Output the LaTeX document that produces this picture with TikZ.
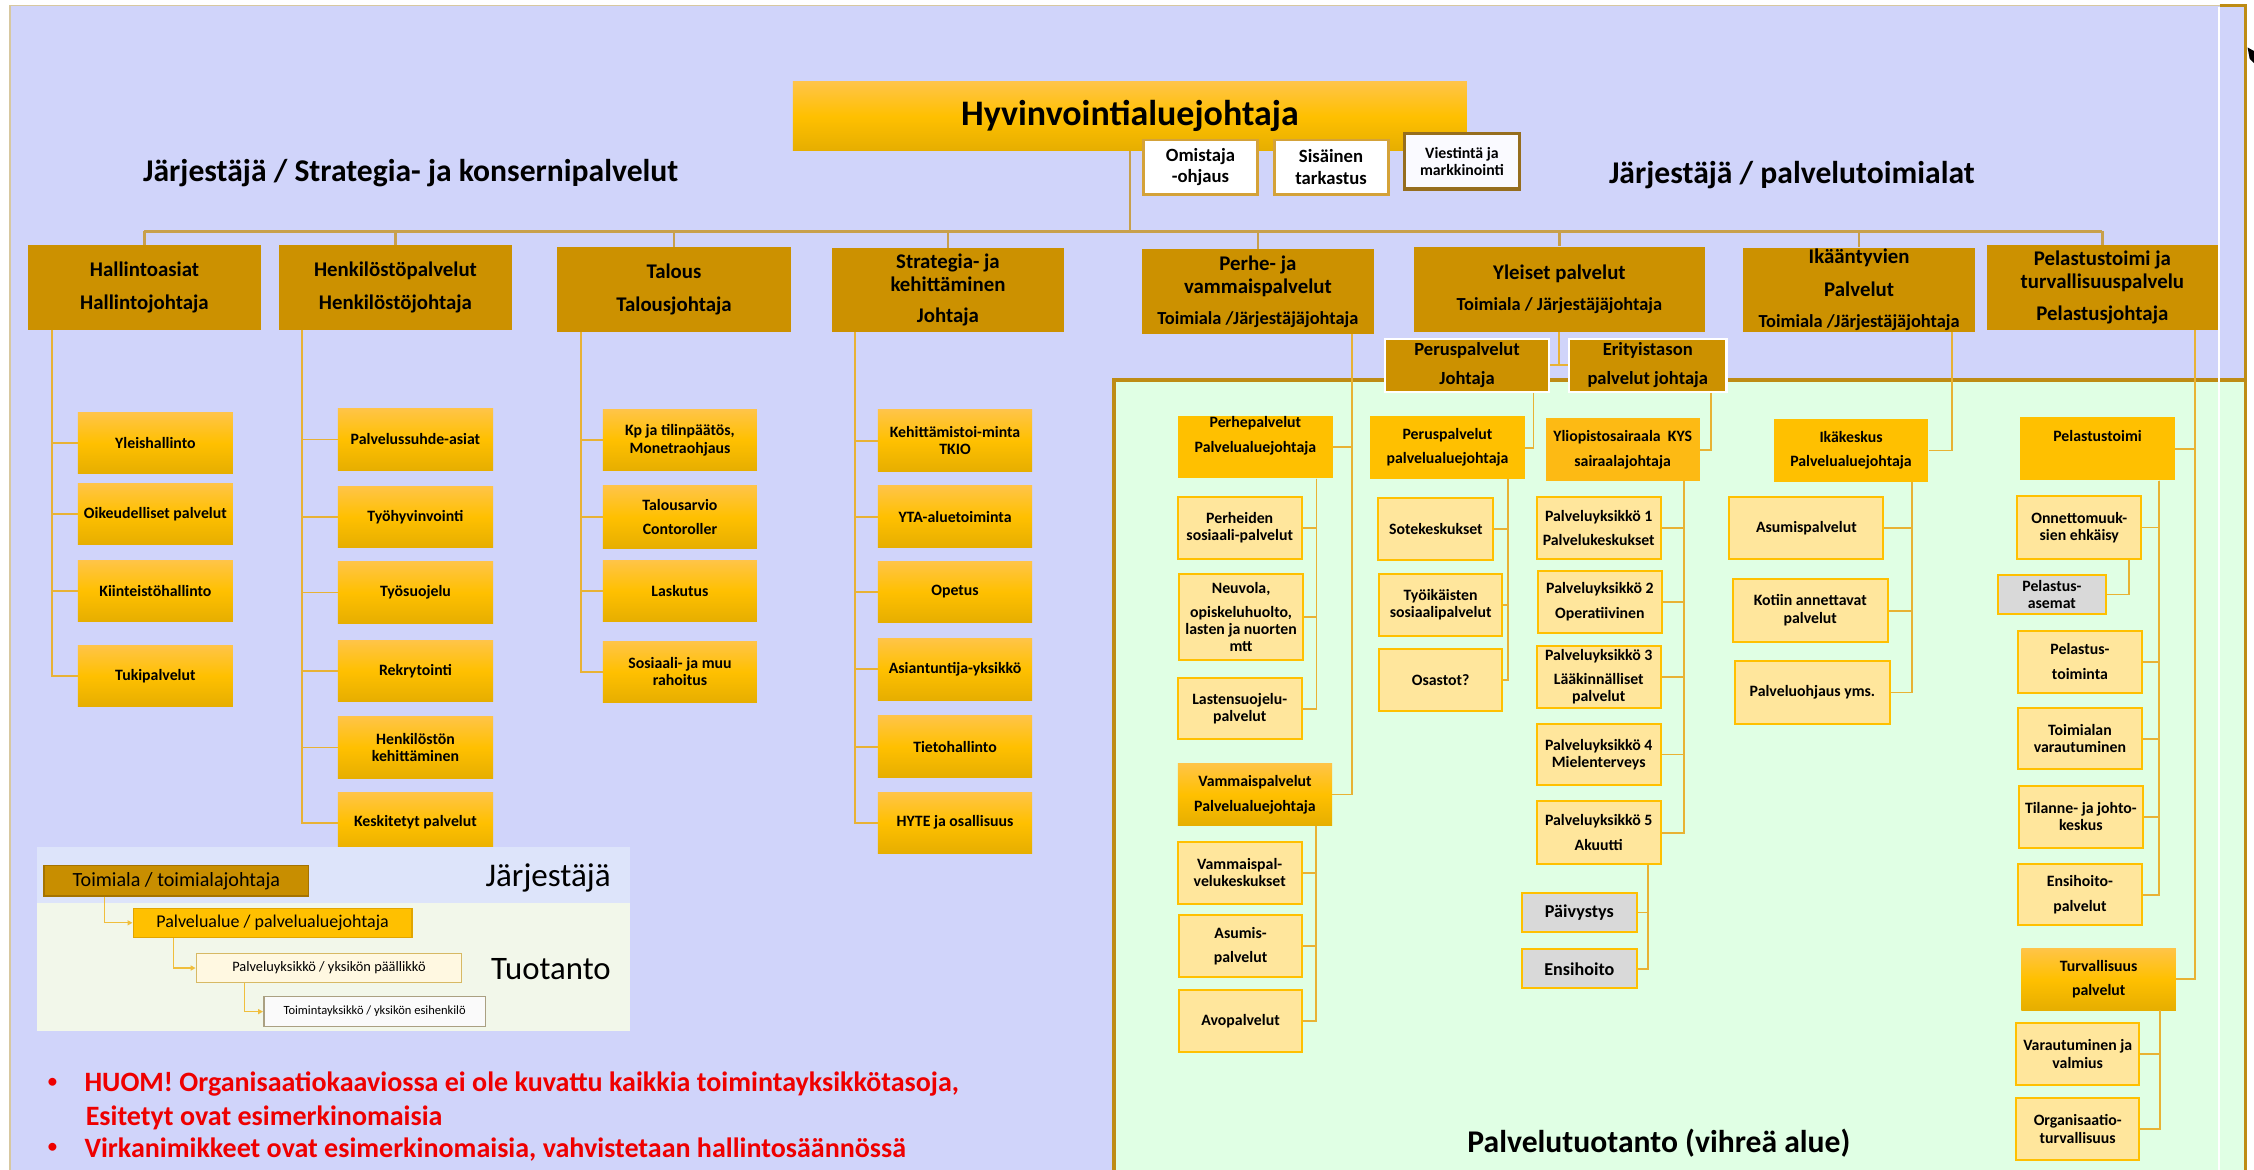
\documentclass[tikz,border=0pt]{standalone}
\usepackage{fontspec}
\setmainfont{Carlito}
\usetikzlibrary{arrows.meta}
\definecolor{lav}{RGB}{208,212,250}
\definecolor{grn}{RGB}{224,255,228}
\definecolor{hdrc}{RGB}{204,145,0}
\definecolor{busc}{RGB}{200,160,75}
\definecolor{conc}{RGB}{232,178,52}
\definecolor{gtop}{RGB}{255,196,72}
\definecolor{gmid}{RGB}{255,192,0}
\definecolor{gbot}{RGB}{230,174,0}
\definecolor{leafc}{RGB}{255,230,156}
\definecolor{orc}{RGB}{255,192,0}
\definecolor{grayc}{RGB}{217,217,217}
\definecolor{midc}{RGB}{255,192,0}
\definecolor{yoc}{RGB}{253,186,20}
\definecolor{redt}{RGB}{238,0,0}
\definecolor{gbord}{RGB}{190,140,20}
\definecolor{omib}{RGB}{212,162,56}
\definecolor{vieb}{RGB}{150,110,30}
\definecolor{tanl}{RGB}{215,200,160}
\definecolor{lgtop}{RGB}{221,228,250}
\definecolor{lgbot}{RGB}{242,247,234}
\definecolor{lgline}{RGB}{240,190,60}
\newcommand\fhdr{\fontsize{14.5}{16}\selectfont\bfseries}
\newcommand\fhsm{\fontsize{12.8}{14}\selectfont}
\newcommand\fleaf{\fontsize{11}{11.8}\selectfont\bfseries}
\newcommand\fbig{\fontsize{12.6}{14}\selectfont\bfseries}
\newcommand\fomi{\fontsize{13}{15}\selectfont\bfseries}
\newcommand\fvie{\fontsize{11}{11.6}\selectfont\bfseries}
\newcommand\fsubh{\fontsize{12.9}{14}\selectfont\bfseries}
\newcommand\fhyv{\fontsize{25}{28}\selectfont\bfseries}
\newcommand\ftitle{\fontsize{22}{24}\selectfont\bfseries}
\newcommand\fred{\fontsize{19.5}{22}\selectfont\bfseries}
\newcommand\fbul{\fontsize{13}{15}\selectfont\bfseries}
\newcommand\obox[7]{%
  \pgfmathsetmacro\oboxw{#5-#3}%
  \pgfmathsetmacro\oboxh{#6-#4}%
  \pgfmathsetmacro\oboxx{(#3+#5)/2}%
  \pgfmathsetmacro\oboxy{(#4+#6)/2}%
  \node[#1,minimum width=\oboxw pt,minimum height=\oboxh pt] (#2) at (\oboxx,\oboxy) {#7};}
\tikzset{
  hdr/.style={fill=hdrc, inner sep=1pt, align=center, font=\fhdr},
  sub/.style={top color=gtop, bottom color=gbot, middle color=gmid, inner sep=1pt, align=center, font=\fleaf},
  mid/.style={fill=midc, inner sep=1pt, align=center, font=\fleaf},
  leaf/.style={fill=leafc, draw=orc, line width=1.4pt, inner sep=1pt, align=center, font=\fleaf},
  grayb/.style={fill=grayc, draw=orc, line width=1.4pt, inner sep=1pt, align=center, font=\fbig},
  wbox/.style={fill=white, draw=omib, line width=2pt, inner sep=1pt, align=center, font=\fomi},
  bus/.style={draw=busc, line width=1.6pt},
  con/.style={draw=conc, line width=1.3pt},
  txt/.style={inner sep=0.5pt, align=center, font=\fleaf},
  lgcon/.style={draw=lgline, line width=0.9pt, -{Triangle[length=3.5pt,width=3.5pt]}},
}
\begin{document}
\begin{tikzpicture}[x=1pt,y=-1pt]
\useasboundingbox (0,0) rectangle (1568,813.9);
\fill[white] (0,0) rectangle (1568,813.9);
\fill[lav] (7.5,4) rectangle (1562,813.9);
\fill[grn] (775,264.3) rectangle (1562,813.9);
\draw[tanl, line width=1pt] (7,813.9) -- (7,4) -- (1544,4);
\draw[gbord, line width=2pt] (1544,4) -- (1562,4) -- (1562,813.9);
\draw[gbord, line width=2.2pt] (775,813.9) -- (775,264.3) -- (1562,264.3);
\draw[white, line width=1.2pt] (1543.8,5) -- (1543.8,813.9);
\fill[black] (1563.5,33) -- (1568,35.5) -- (1568,44) -- (1565,41) -- cycle;

% titles
\node[font=\ftitle] (tleft) at (285.7,120.6) {Järjestäjä / Strategia- ja konsernipalvelut};
\node[font=\ftitle] (tright) at (1246.5,121.7) {Järjestäjä / palvelutoimialat};
\node[font=\ftitle] (tgreen) at (1154,795.4) {Palvelutuotanto (vihreä alue)};

% top
\obox{sub,font=\fhyv}{hyv}{551.5}{57}{1020.5}{104.8}{Hyvinvointialuejohtaja}
\obox{wbox}{omi}{795.3}{97.4}{874.9}{135}{Omistaja\\-ohjaus}
\obox{wbox}{sis}{886.3}{97.4}{965.6}{135}{Sisäinen\\tarkastus}
\obox{wbox,draw=vieb,line width=2.4pt,fill={rgb,255:red,250;green,250;blue,255},font=\fvie}{vie}{977}{93}{1057}{131.5}{Viestintä ja\\markkinointi}

% headers
\obox{hdr}{hall}{19.6}{170.4}{181.4}{229.6}{Hallintoasiat\\[6.7pt]Hallintojohtaja}
\obox{hdr}{henk}{194.2}{170.4}{356}{229.6}{Henkilöstöpalvelut\\[6.7pt]Henkilöstöjohtaja}
\obox{hdr}{tal}{387.7}{172}{550}{230.7}{Talous\\[6.7pt]Talousjohtaja}
\obox{hdr}{str}{578.9}{172.5}{740}{230.7}{Strategia- ja\\kehittäminen\\[6pt]Johtaja}
\obox{hdr}{perhe}{794.6}{173.4}{955.5}{232.3}{Perhe- ja\\vammaispalvelut\\[6pt]{\fhsm Toimiala /Järjestäjäjohtaja}}
\obox{hdr}{yl}{983.6}{171.6}{1186}{230.7}{Yleiset palvelut\\[5pt]{\fhsm Toimiala / Järjestäjäjohtaja}}
\obox{hdr}{ika}{1212.6}{172.3}{1374}{230.7}{Ikääntyvien\\[6.5pt]Palvelut\\[5.6pt]{\fhsm Toimiala /Järjestäjäjohtaja}}
\obox{hdr}{pel}{1382}{170.4}{1543}{229.6}{Pelastustoimi ja\\turvallisuuspalvelu\\[6.7pt]Pelastusjohtaja}

% Hallinto
\obox{sub}{yh}{54.2}{287}{162}{329.5}{Yleishallinto}
\obox{sub}{oik}{54.2}{336}{162}{379}{Oikeudelliset palvelut}
\obox{sub}{kiin}{54.2}{389.8}{162}{432.5}{Kiinteistöhallinto}
\obox{sub}{tuki}{54.2}{448.8}{162}{491.6}{Tukipalvelut}
% Henkilosto
\obox{sub}{pal}{235}{284}{343}{327.4}{Palvelussuhde-asiat}
\obox{sub}{tyh}{235}{338.3}{343}{381}{Työhyvinvointi}
\obox{sub}{tys}{235}{390.5}{343}{433.9}{Työsuojelu}
\obox{sub}{rek}{235}{445.5}{343}{488}{Rekrytointi}
\obox{sub}{hke}{235}{498.3}{343}{541.7}{Henkilöstön\\kehittäminen}
\obox{sub}{kes}{235}{551}{343}{593.6}{Keskitetyt palvelut}
% Talous
\obox{sub}{kp}{419.4}{284.8}{526.6}{327.4}{Kp ja tilinpäätös,\\[0.7pt]Monetraohjaus}
\obox{sub}{tab}{419.4}{338}{526.6}{381.7}{Talousarvio\\[4.9pt]Contoroller}
\obox{sub}{las}{419.4}{389.6}{526.6}{432.5}{Laskutus}
\obox{sub}{sos}{419.4}{446}{526.6}{488.8}{Sosiaali- ja muu\\rahoitus}
% Strategia
\obox{sub}{keh}{610.7}{285.2}{718}{328.1}{Kehittämistoi-minta\\TKIO}
\obox{sub}{yta}{610.7}{338}{718}{381}{YTA-aluetoiminta}
\obox{sub}{ope}{610.7}{390.3}{718}{433.2}{Opetus}
\obox{sub}{asi}{610.7}{444}{718}{487}{Asiantuntija-yksikkö}
\obox{sub}{tie}{610.7}{498}{718}{541}{Tietohallinto}
\obox{sub}{hyte}{610.7}{551}{718}{593.6}{HYTE ja osallisuus}

% Perhe
\obox{mid}{pp}{819.3}{289.2}{927.3}{332.7}{}
\node[txt,anchor=north] (ppt) at (pp.north) {Perhepalvelut\\[5.7pt]Palvelualuejohtaja};
\obox{leaf}{ps}{819.3}{345.7}{905.5}{388.6}{Perheiden\\sosiaali-palvelut}
\obox{leaf}{neu}{820}{399.3}{906.7}{458.9}{Neuvola,\\[5pt]opiskeluhuolto,\\lasten ja nuorten\\mtt}
\obox{leaf}{lsu}{819.3}{471.6}{905.5}{514.3}{Lastensuojelu-\\palvelut}
\obox{sub}{vp}{819.3}{530.9}{926.7}{574.4}{Vammaispalvelut\\[5.6pt]Palvelualuejohtaja}
\obox{leaf}{vk}{819.3}{585.6}{905.5}{628.6}{Vammaispal-\\velukeskukset}
\obox{leaf}{asu}{820}{636.5}{906}{679.9}{Asumis-\\[5.4pt]palvelut}
\obox{leaf}{avo}{820}{688.7}{906}{732}{Avopalvelut}

% Yleiset
\obox{hdr,draw=white,line width=1.5pt,font=\fsubh}{pj}{963.5}{235.8}{1077.6}{272.5}{Peruspalvelut\\[6pt]Johtaja}
\obox{hdr,draw=white,line width=1.5pt,font=\fsubh}{et}{1091.5}{235.8}{1201}{272.5}{Erityistason\\[6pt]palvelut johtaja}
\obox{mid}{ppa}{953.2}{289.7}{1060.7}{333.2}{Peruspalvelut\\[4.8pt]palvelualuejohtaja}
\obox{leaf}{sot}{958.8}{346.4}{1038.9}{389.3}{Sotekeskukset}
\obox{leaf}{tyi}{959.3}{399.3}{1045}{442.4}{Työikäisten\\sosiaalipalvelut}
\obox{leaf}{osa}{959.3}{451.2}{1045}{494.6}{Osastot?}
\obox{mid,fill=yoc}{yo}{1075.2}{291}{1182.3}{334.6}{Yliopistosairaala\ \ KYS\\[5.2pt]sairaalajohtaja}
\obox{leaf}{py1}{1069}{345.6}{1155.3}{388.6}{Palveluyksikkö 1\\[4.9pt]Palvelukeskukset}
\obox{leaf}{py2}{1069.8}{397.2}{1156.1}{440.3}{Palveluyksikkö 2\\[5.6pt]Operatiivinen}
\obox{leaf}{py3}{1069}{449.4}{1155.3}{492.5}{Palveluyksikkö 3\\[4.9pt]Lääkinnälliset\\palvelut}
\obox{leaf}{py4}{1069}{503.4}{1155.3}{546.4}{Palveluyksikkö 4\\Mielenterveys}
\obox{leaf}{py5}{1069}{557.5}{1155.3}{601}{Palveluyksikkö 5\\[5.6pt]Akuutti}
\obox{grayb}{pai}{1058.8}{621.3}{1138.5}{648.2}{Päivystys}
\obox{grayb}{ens}{1058.8}{660.4}{1138.5}{687.5}{Ensihoito}

% Ika
\obox{mid}{ik}{1233.9}{291.7}{1341.4}{335.1}{Ikäkeskus\\[4.8pt]Palvelualuejohtaja}
\obox{leaf}{asp}{1203}{345.8}{1310.2}{389}{Asumispalvelut}
\obox{leaf}{kot}{1205.5}{403}{1313.1}{446.5}{Kotiin annettavat\\[0.6pt]palvelut}
\obox{leaf}{pao}{1207}{460.1}{1314.6}{503.4}{Palveluohjaus yms.}

% Pelastus
\obox{mid}{pt}{1405.5}{290.4}{1512.8}{334.2}{}
\node[txt,anchor=north] (ptt) at ([yshift=-8.6pt]pt.north) {Pelastustoimi};
\obox{leaf}{onn}{1403.3}{345.3}{1489.6}{388.6}{Onnettomuuk-\\sien ehkäisy}
\obox{grayb,font=\fleaf}{ase}{1389.8}{400}{1465}{427.1}{Pelastus-\\[0.6pt]asemat}
\obox{leaf}{pto}{1403.8}{438.8}{1490}{482.2}{Pelastus-\\[5.6pt]toiminta}
\obox{leaf}{tva}{1403.8}{492.5}{1490}{535.2}{Toimialan\\varautuminen}
\obox{leaf}{til}{1404.5}{546.8}{1490.6}{589.8}{Tilanne- ja johto-\\keskus}
\obox{leaf}{enp}{1403.8}{600.8}{1490}{643.8}{Ensihoito-\\[5.6pt]palvelut}
\obox{sub}{tur}{1406.2}{659.7}{1513.7}{702.6}{Turvallisuus\\[4.9pt]palvelut}
\obox{leaf}{var}{1402.6}{711.9}{1488.1}{754.8}{Varautuminen ja\\[0.5pt]valmius}
\obox{leaf}{org}{1402.6}{764}{1488.1}{807}{Organisaatio-\\[1pt]turvallisuus}

% bus
\coordinate (bus) at (786,161);
\draw[bus] (hall.north |- bus) -- (pel.north |- bus);
\draw[bus] (hyv.south) -- (hyv.south |- bus);
\foreach \n in {hall,henk,tal,str,perhe,yl,ika,pel} {\draw[bus] (\n.north |- bus) -- (\n.north);}

% column connectors
\foreach \c in {yh,oik,kiin,tuki} {\draw[con] ([xshift=16.7pt]hall.south west) |- (\c.west);}
\foreach \c in {pal,tyh,tys,rek,hke,kes} {\draw[con] ([xshift=15.8pt]henk.south west) |- (\c.west);}
\foreach \c in {kp,tab,las,sos} {\draw[con] ([xshift=16.5pt]tal.south west) |- (\c.west);}
\foreach \c in {keh,yta,ope,asi,tie,hyte} {\draw[con] ([xshift=16.1pt]str.south west) |- (\c.west);}
\foreach \c in {pp,vp} {\draw[con] ([xshift=-15.4pt]perhe.south east) |- (\c.east);}
\foreach \c in {ps,neu,lsu} {\draw[con] ([xshift=-11.7pt]pp.south east) |- (\c.east);}
\foreach \c in {vk,asu,avo} {\draw[con] ([xshift=-11.7pt]vp.south east) |- (\c.east);}
\draw[con] (yl.south) -- (yl.south |- pj.east);
\draw[con] (pj.east) -- (et.west);
\draw[con] ([xshift=-11.6pt]pj.south east) |- (ppa.east);
\foreach \c in {sot,tyi,osa} {\draw[con] ([xshift=-11.7pt]ppa.south east) |- (\c.east);}
\draw[con] ([xshift=-11.4pt]et.south east) |- (yo.east);
\foreach \c in {py1,py2,py3,py4,py5} {\draw[con] ([xshift=-10.8pt]yo.south east) |- (\c.east);}
\foreach \c in {pai,ens} {\draw[con] ([xshift=-9.8pt]py5.south east) |- (\c.east);}
\draw[con] ([xshift=-16.5pt]ika.south east) |- (ik.east);
\foreach \c in {asp,kot,pao} {\draw[con] ([xshift=-11.4pt]ik.south east) |- (\c.east);}
\foreach \c in {pt,tur} {\draw[con] ([xshift=-16.3pt]pel.south east) |- (\c.east);}
\foreach \c in {onn,pto,tva,til,enp} {\draw[con] ([xshift=-11.4pt]pt.south east) |- (\c.east);}
\draw[con] ([xshift=-9.1pt]onn.south east) |- (ase.east);
\foreach \c in {var,org} {\draw[con] ([xshift=-11.2pt]tur.south east) |- (\c.east);}

% legend
\fill[lgtop] (25.9,589.5) rectangle (438.3,628.4);
\fill[lgbot] (25.9,628.4) rectangle (438.3,717);
\obox{fill={rgb,255:red,200;green,142;blue,0},draw={rgb,255:red,165;green,115;blue,0},line width=1pt,inner sep=1pt,font=\fontsize{14}{15}\selectfont}{lt}{30.7}{602.2}{214.7}{623.3}{Toimiala / toimialajohtaja}
\obox{fill=midc,draw={rgb,255:red,225;green,165;blue,0},line width=1pt,inner sep=1pt,font=\fontsize{12.5}{14}\selectfont}{lpa}{92.7}{631.9}{286.5}{652}{Palvelualue / palvelualuejohtaja}
\obox{fill={rgb,255:red,255;green,248;blue,225},draw={rgb,255:red,215;green,185;blue,100},line width=1pt,inner sep=1pt,font=\fontsize{10}{12}\selectfont}{lpy}{136.6}{663.2}{321.1}{683.6}{Palveluyksikkö / yksikön päällikkö}
\obox{fill={rgb,255:red,250;green,250;blue,250},draw={rgb,255:red,170;green,160;blue,130},line width=1pt,inner sep=1pt,font=\fontsize{8.7}{10}\selectfont}{lto}{183.5}{693.3}{337.7}{714.2}{Toimintayksikkö / yksikön esihenkilö}
\node[font=\fontsize{23}{25}\selectfont] (lj) at (381.3,611) {Järjestäjä};
\node[font=\fontsize{22.8}{25}\selectfont] (ltu) at (383.3,674.3) {Tuotanto};
\draw[lgcon] ([xshift=42.5pt]lt.south west) |- (lpa.west);
\draw[lgcon] ([xshift=28.3pt]lpa.south west) |- (lpy.west);
\draw[lgcon] ([xshift=34.2pt]lpy.south west) |- (lto.west);

% red notes
\node[font=\fbul, text=redt, anchor=center] (b1) at (36.6,753.2) {•};
\node[font=\fred, text=redt, anchor=base west, inner sep=0pt] (r1) at (58.6,759.4) {HUOM! Organisaatiokaaviossa ei ole kuvattu kaikkia toimintayksikkötasoja,};
\node[font=\fred, text=redt, anchor=base west, inner sep=0pt] (r2) at (59.5,783) {Esitetyt ovat esimerkinomaisia};
\node[font=\fbul, text=redt, anchor=center] (b2) at (36.6,798.8) {•};
\node[font=\fred, text=redt, anchor=base west, inner sep=0pt] (r3) at (58.6,805) {Virkanimikkeet ovat esimerkinomaisia, vahvistetaan hallintosäännössä};
\end{tikzpicture}
\end{document}
